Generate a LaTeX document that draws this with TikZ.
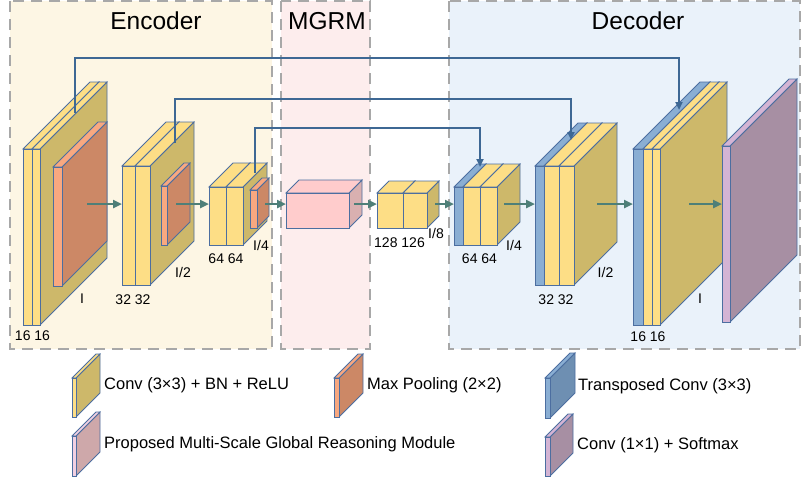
\documentclass[tikz,border=0pt]{standalone}
\usepackage{fontspec}
\setmainfont{Liberation Sans}
\usetikzlibrary{arrows.meta}

% panel backgrounds
\definecolor{encbg}{RGB}{253,246,228}
\definecolor{mgrmbg}{RGB}{253,237,237}
\definecolor{decbg}{RGB}{234,242,250}
\definecolor{framegray}{RGB}{168,168,168}
% layer colours
\definecolor{convfront}{RGB}{253,222,134}
\definecolor{convside}{RGB}{205,184,106}
\definecolor{poolfront}{RGB}{248,168,128}
\definecolor{poolside}{RGB}{204,136,102}
\definecolor{tconvfront}{RGB}{138,174,211}
\definecolor{tconvside}{RGB}{110,143,178}
\definecolor{mgrmfront}{RGB}{255,204,204}
\definecolor{mgrmside}{RGB}{217,176,176}
\definecolor{legmgrmfront}{RGB}{242,208,226}
\definecolor{legmgrmside}{RGB}{206,168,170}
\definecolor{outfront}{RGB}{212,180,212}
\definecolor{outside}{RGB}{167,143,163}
% strokes
\definecolor{edgeblue}{RGB}{76,110,160}
\definecolor{skipblue}{RGB}{62,104,148}
\definecolor{flowteal}{RGB}{78,127,120}

% a 3-D slab: x-left, x-right, y-top, y-bottom, depth, front colour, side colour
\newcommand\cubeslab[7]{%
  \draw[slabedge,fill=#7] (#2,#3) -- (#2+#5,#3-#5) -- (#2+#5,#4-#5) -- (#2,#4) -- cycle;
  \draw[slabedge,fill=#6] (#1,#3) -- (#1+#5,#3-#5) -- (#2+#5,#3-#5) -- (#2,#3) -- cycle;
  \draw[slabedge,fill=#6] (#1,#3) rectangle (#2,#4);}

\begin{document}
\begin{tikzpicture}[x=1pt,y=-1pt,
  slabedge/.style={draw=edgeblue,line width=0.8pt,line join=miter},
  panel/.style={draw=framegray,line width=2.5pt,dash pattern=on 11pt off 7pt},
  flow/.style={draw=flowteal,line width=2.4pt,-{Triangle[length=9pt,width=8pt]}},
  skip/.style={draw=skipblue,line width=2pt,-{Triangle[length=8pt,width=7pt]}},
  title/.style={font=\fontsize{24.5}{28}\selectfont,anchor=base,inner sep=0pt},
  dim/.style={font=\fontsize{14}{16}\selectfont,anchor=base,inner sep=0pt},
  legtext/.style={font=\fontsize{16.5}{19}\selectfont,anchor=base west,inner sep=0pt}]

\useasboundingbox (0,0) rectangle (802,480);

% ---------- panels ----------
\draw[panel,fill=encbg]  (10,1) rectangle (272,349);
\draw[panel,fill=mgrmbg] (281,1) rectangle (370,349);
\draw[panel,fill=decbg]  (449,1) rectangle (800,349);
\node[title] (tenc) at (156,29) {Encoder};
\node[title] (tmgrm) at (327,29) {MGRM};
\node[title] (tdec) at (638,29) {Decoder};

% ---------- encoder ----------
\cubeslab{23}{32}{149}{325}{67}{convfront}{convside}
\cubeslab{32}{40}{149}{325}{67}{convfront}{convside}
\cubeslab{53}{62}{167}{286}{45}{poolfront}{poolside}

\cubeslab{122}{135}{166}{285}{44}{convfront}{convside}
\cubeslab{135}{150}{166}{285}{44}{convfront}{convside}
\cubeslab{161}{167}{186}{245}{23}{poolfront}{poolside}

\cubeslab{209}{226}{187}{245}{24}{convfront}{convside}
\cubeslab{226}{243}{187}{245}{24}{convfront}{convside}
\cubeslab{250}{257}{190}{228}{12}{poolfront}{poolside}

% ---------- reasoning module ----------
\cubeslab{286}{349}{193}{228}{13}{mgrmfront}{mgrmside}

% ---------- bottleneck ----------
\cubeslab{377}{403}{193}{228}{12}{convfront}{convside}
\cubeslab{403}{427}{193}{228}{12}{convfront}{convside}

% ---------- decoder ----------
\cubeslab{454}{463}{187}{245}{23}{tconvfront}{tconvside}
\cubeslab{463}{480}{187}{245}{23}{convfront}{convside}
\cubeslab{480}{497}{187}{245}{23}{convfront}{convside}

\cubeslab{535}{544}{166}{285}{43}{tconvfront}{tconvside}
\cubeslab{544}{559}{166}{285}{43}{convfront}{convside}
\cubeslab{559}{574}{166}{285}{43}{convfront}{convside}

\cubeslab{633}{643}{149}{325}{67}{tconvfront}{tconvside}
\cubeslab{643}{652}{149}{325}{67}{convfront}{convside}
\cubeslab{652}{660}{149}{325}{67}{convfront}{convside}

\cubeslab{722}{730}{146}{322}{67}{outfront}{outside}

% ---------- flow arrows ----------
\coordinate (e1out) at (87,204);  \coordinate (e2in) at (122,204);
\coordinate (e2out) at (176,204); \coordinate (e3in) at (209,204);
\coordinate (e3out) at (265,204); \coordinate (gin) at (286,204);
\coordinate (gout) at (354,204);  \coordinate (bin) at (377,204);
\coordinate (bout) at (435,204);  \coordinate (d1in) at (454,204);
\coordinate (d1out) at (504,204); \coordinate (d2in) at (535,204);
\coordinate (d2out) at (597,204); \coordinate (d3in) at (633,204);
\coordinate (d3out) at (689,204); \coordinate (oin) at (722,204);
\draw[flow] (e1out) -- (e2in);
\draw[flow] (e2out) -- (e3in);
\draw[flow] (e3out) -- (gin);
\draw[flow] (gout) -- (bin);
\draw[flow] (bout) -- (d1in);
\draw[flow] (d1out) -- (d2in);
\draw[flow] (d2out) -- (d3in);
\draw[flow] (d3out) -- (oin);

% ---------- skip connections ----------
\coordinate (s1a) at (75,113);  \coordinate (s1b) at (679,110);
\coordinate (s2a) at (175,143); \coordinate (s2b) at (571,140);
\coordinate (s3a) at (255,173); \coordinate (s3b) at (480,167);
\draw[skip] (s1a) -- ++(0,-55) -| (s1b);
\draw[skip] (s2a) -- ++(0,-44) -| (s2b);
\draw[skip] (s3a) -- ++(0,-45) -| (s3b);

% ---------- channel / resolution labels ----------
\node[dim] (l1) at (32.5,340) {16 16};
\node[dim] (r1) at (82,303) {I};
\node[dim] (l2) at (133,304) {32 32};
\node[dim] (r2) at (183,277) {I/2};
\node[dim] (l3) at (226,263) {64 64};
\node[dim] (r3) at (261,250) {I/4};
\node[dim] (lb) at (399.5,247) {128 126};
\node[dim] (rb) at (436,238) {I/8};
\node[dim] (l4) at (479.5,263) {64 64};
\node[dim] (r4) at (514,250) {I/4};
\node[dim] (l5) at (556,304) {32 32};
\node[dim] (r5) at (605.5,277) {I/2};
\node[dim] (l6) at (648,341) {16 16};
\node[dim] (r6) at (700,303) {I};

% ---------- legend ----------
\cubeslab{72}{76}{378}{417}{24}{convfront}{convside}
\node[legtext] (kconv) at (104,389) {Conv (3×3) + BN + ReLU};
\cubeslab{334}{339}{378}{417}{24}{poolfront}{poolside}
\node[legtext] (kpool) at (367,389) {Max Pooling (2×2)};
\cubeslab{545}{550}{378}{418}{25}{tconvfront}{tconvside}
\node[legtext] (ktconv) at (578,390) {Transposed Conv (3×3)};
\cubeslab{72}{76}{436}{476}{24}{legmgrmfront}{legmgrmside}
\node[legtext] (kmgrm) at (104,448) {Proposed Multi-Scale Global Reasoning Module};
\cubeslab{545}{550}{437}{476}{23}{outfront}{outside}
\node[legtext] (kout) at (577,449) {Conv (1×1) + Softmax};

\end{tikzpicture}
\end{document}
